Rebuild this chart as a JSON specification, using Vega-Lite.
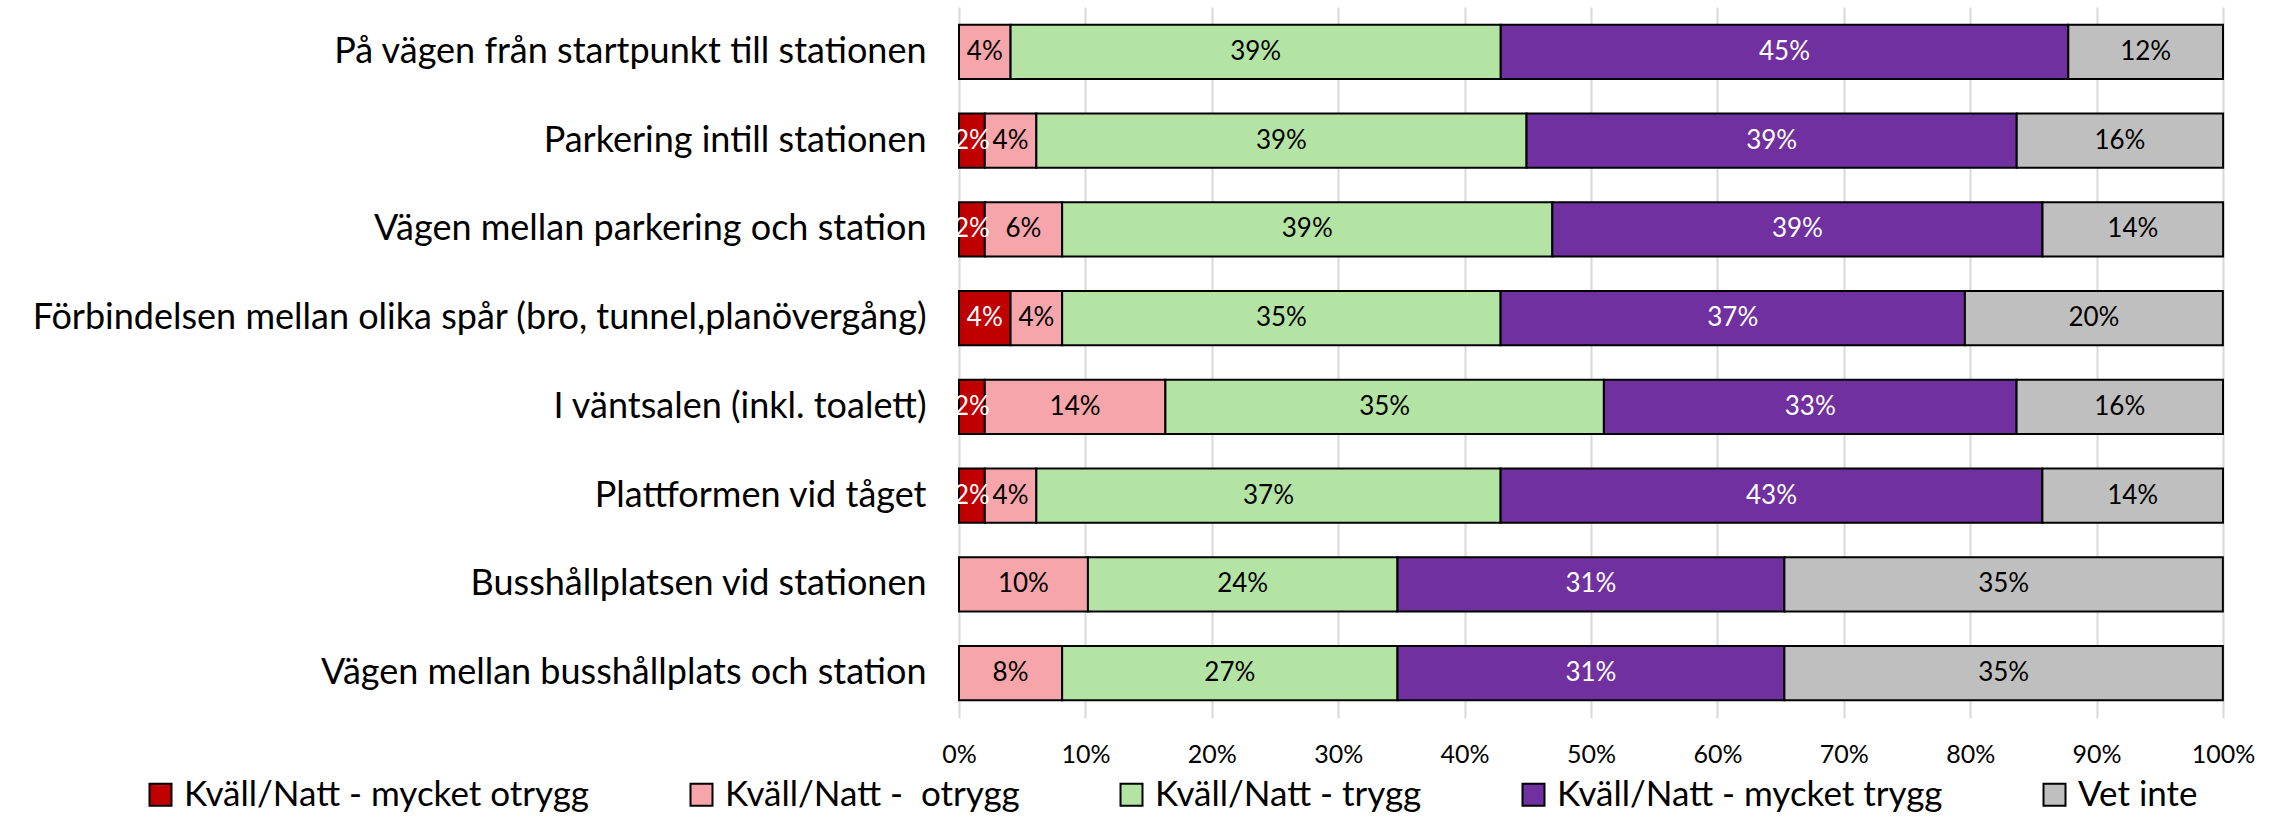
{
  "$schema": "https://vega.github.io/schema/vega-lite/v6.json",
  "autosize": {"type": "none"},
  "width": 1264,
  "height": 711,
  "padding": {"left": 959, "top": 7, "right": 54, "bottom": 98},
  "background": "white",
  "config": {
    "font": "Lato",
    "view": {"stroke": null},
    "axis": {"labelFont": "Lato", "labelColor": "#000000"},
    "legend": {"labelFont": "Lato"}
  },
  "data": {
    "values": [
      {"plats": "På vägen från startpunkt till stationen", "kategori": "Kväll/Natt -  otrygg", "ordning": 2, "andel": 0.0408},
      {"plats": "På vägen från startpunkt till stationen", "kategori": "Kväll/Natt - trygg", "ordning": 3, "andel": 0.3878},
      {"plats": "På vägen från startpunkt till stationen", "kategori": "Kväll/Natt - mycket trygg", "ordning": 4, "andel": 0.449},
      {"plats": "På vägen från startpunkt till stationen", "kategori": "Vet inte", "ordning": 5, "andel": 0.1224},

      {"plats": "Parkering intill stationen", "kategori": "Kväll/Natt - mycket otrygg", "ordning": 1, "andel": 0.0204},
      {"plats": "Parkering intill stationen", "kategori": "Kväll/Natt -  otrygg", "ordning": 2, "andel": 0.0408},
      {"plats": "Parkering intill stationen", "kategori": "Kväll/Natt - trygg", "ordning": 3, "andel": 0.3878},
      {"plats": "Parkering intill stationen", "kategori": "Kväll/Natt - mycket trygg", "ordning": 4, "andel": 0.3878},
      {"plats": "Parkering intill stationen", "kategori": "Vet inte", "ordning": 5, "andel": 0.1633},

      {"plats": "Vägen mellan parkering och station", "kategori": "Kväll/Natt - mycket otrygg", "ordning": 1, "andel": 0.0204},
      {"plats": "Vägen mellan parkering och station", "kategori": "Kväll/Natt -  otrygg", "ordning": 2, "andel": 0.0612},
      {"plats": "Vägen mellan parkering och station", "kategori": "Kväll/Natt - trygg", "ordning": 3, "andel": 0.3878},
      {"plats": "Vägen mellan parkering och station", "kategori": "Kväll/Natt - mycket trygg", "ordning": 4, "andel": 0.3878},
      {"plats": "Vägen mellan parkering och station", "kategori": "Vet inte", "ordning": 5, "andel": 0.1429},

      {"plats": "Förbindelsen mellan olika spår (bro, tunnel,planövergång)", "kategori": "Kväll/Natt - mycket otrygg", "ordning": 1, "andel": 0.0408},
      {"plats": "Förbindelsen mellan olika spår (bro, tunnel,planövergång)", "kategori": "Kväll/Natt -  otrygg", "ordning": 2, "andel": 0.0408},
      {"plats": "Förbindelsen mellan olika spår (bro, tunnel,planövergång)", "kategori": "Kväll/Natt - trygg", "ordning": 3, "andel": 0.3469},
      {"plats": "Förbindelsen mellan olika spår (bro, tunnel,planövergång)", "kategori": "Kväll/Natt - mycket trygg", "ordning": 4, "andel": 0.3673},
      {"plats": "Förbindelsen mellan olika spår (bro, tunnel,planövergång)", "kategori": "Vet inte", "ordning": 5, "andel": 0.2041},

      {"plats": "I väntsalen (inkl. toalett)", "kategori": "Kväll/Natt - mycket otrygg", "ordning": 1, "andel": 0.0204},
      {"plats": "I väntsalen (inkl. toalett)", "kategori": "Kväll/Natt -  otrygg", "ordning": 2, "andel": 0.1429},
      {"plats": "I väntsalen (inkl. toalett)", "kategori": "Kväll/Natt - trygg", "ordning": 3, "andel": 0.3469},
      {"plats": "I väntsalen (inkl. toalett)", "kategori": "Kväll/Natt - mycket trygg", "ordning": 4, "andel": 0.3265},
      {"plats": "I väntsalen (inkl. toalett)", "kategori": "Vet inte", "ordning": 5, "andel": 0.1633},

      {"plats": "Plattformen vid tåget", "kategori": "Kväll/Natt - mycket otrygg", "ordning": 1, "andel": 0.0204},
      {"plats": "Plattformen vid tåget", "kategori": "Kväll/Natt -  otrygg", "ordning": 2, "andel": 0.0408},
      {"plats": "Plattformen vid tåget", "kategori": "Kväll/Natt - trygg", "ordning": 3, "andel": 0.3673},
      {"plats": "Plattformen vid tåget", "kategori": "Kväll/Natt - mycket trygg", "ordning": 4, "andel": 0.4286},
      {"plats": "Plattformen vid tåget", "kategori": "Vet inte", "ordning": 5, "andel": 0.1429},

      {"plats": "Busshållplatsen vid stationen", "kategori": "Kväll/Natt -  otrygg", "ordning": 2, "andel": 0.102},
      {"plats": "Busshållplatsen vid stationen", "kategori": "Kväll/Natt - trygg", "ordning": 3, "andel": 0.2449},
      {"plats": "Busshållplatsen vid stationen", "kategori": "Kväll/Natt - mycket trygg", "ordning": 4, "andel": 0.3061},
      {"plats": "Busshållplatsen vid stationen", "kategori": "Vet inte", "ordning": 5, "andel": 0.3469},

      {"plats": "Vägen mellan busshållplats och station", "kategori": "Kväll/Natt -  otrygg", "ordning": 2, "andel": 0.0816},
      {"plats": "Vägen mellan busshållplats och station", "kategori": "Kväll/Natt - trygg", "ordning": 3, "andel": 0.2653},
      {"plats": "Vägen mellan busshållplats och station", "kategori": "Kväll/Natt - mycket trygg", "ordning": 4, "andel": 0.3061},
      {"plats": "Vägen mellan busshållplats och station", "kategori": "Vet inte", "ordning": 5, "andel": 0.3469}
    ]
  },
  "transform": [
    {"stack": "andel", "groupby": ["plats"], "sort": [{"field": "ordning", "order": "ascending"}], "as": ["x0", "x1"]},
    {"calculate": "(datum.x0 + datum.x1) / 2", "as": "mitt"}
  ],
  "encoding": {
    "y": {
      "field": "plats",
      "type": "nominal",
      "sort": [
        "På vägen från startpunkt till stationen",
        "Parkering intill stationen",
        "Vägen mellan parkering och station",
        "Förbindelsen mellan olika spår (bro, tunnel,planövergång)",
        "I väntsalen (inkl. toalett)",
        "Plattformen vid tåget",
        "Busshållplatsen vid stationen",
        "Vägen mellan busshållplats och station"
      ],
      "scale": {"paddingInner": 0.39, "paddingOuter": 0.2},
      "axis": {
        "title": null,
        "domain": false,
        "ticks": false,
        "labelFontSize": 36,
        "labelPadding": 33,
        "labelLimit": 1000,
        "labelColor": "#000000"
      }
    }
  },
  "layer": [
    {
      "mark": {"type": "bar", "stroke": "#000000", "strokeWidth": 2},
      "encoding": {
        "x": {
          "field": "x0",
          "type": "quantitative",
          "scale": {"domain": [0, 1], "nice": false},
          "axis": {
            "title": null,
            "format": ".0%",
            "values": [0, 0.1, 0.2, 0.3, 0.4, 0.5, 0.6, 0.7, 0.8, 0.9, 1],
            "domain": false,
            "ticks": false,
            "grid": true,
            "gridColor": "#D9D9D9",
            "gridWidth": 2,
            "labelFontSize": 25,
            "labelPadding": 24,
            "labelFlush": false
          }
        },
        "x2": {"field": "x1"},
        "color": {
          "field": "kategori",
          "type": "nominal",
          "scale": {
            "domain": ["Kväll/Natt - mycket otrygg", "Kväll/Natt -  otrygg", "Kväll/Natt - trygg", "Kväll/Natt - mycket trygg", "Vet inte"],
            "range": ["#C00000", "#F6A6AA", "#B4E4A4", "#7030A0", "#BFBFBF"]
          },
          "legend": {
            "title": null,
            "orient": "none",
            "direction": "horizontal",
            "columns": 5,
            "legendX": -816,
            "legendY": 770,
            "symbolType": "square",
            "symbolSize": 484,
            "symbolStrokeColor": "#000000",
            "symbolStrokeWidth": 2,
            "symbolOpacity": 1,
            "labelFontSize": 35,
            "labelColor": "#000000",
            "labelOffset": 6,
            "labelLimit": 1000,
            "labelExpr": "replace(datum.label, '-  o', '-\u00a0 o')",
            "columnPadding": 94
          }
        }
      }
    },
    {
      "mark": {"type": "text", "fontSize": 26, "font": "Lato", "align": "center", "baseline": "middle"},
      "encoding": {
        "x": {"field": "mitt", "type": "quantitative"},
        "text": {"field": "andel", "type": "quantitative", "format": ".0%"},
        "color": {
          "condition": {"test": "datum.ordning == 1 || datum.ordning == 4", "value": "#FFFFFF"},
          "value": "#000000"
        }
      }
    }
  ]
}
